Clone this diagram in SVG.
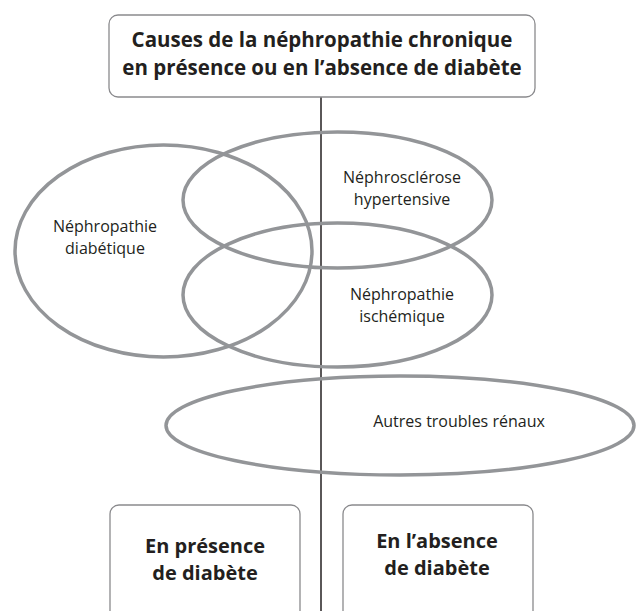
<svg xmlns="http://www.w3.org/2000/svg" width="636" height="611" viewBox="0 0 636 611">
<style>
.box{fill:#fff;stroke:#8a8a8d;stroke-width:1.3}
.ell{fill:none;stroke:#939598;stroke-width:3.5}
.t{font-family:"Open Sans","Liberation Sans",sans-serif;fill:#231f20;text-anchor:middle}
.h{font-weight:bold;font-size:20.5px}
.b{font-weight:bold;font-size:20px}
.n{font-size:16px}
</style>
<rect width="636" height="611" fill="#fff"/>
<g id="connectors">
<line x1="321" y1="97" x2="321" y2="611" stroke="#231f20" stroke-width="1.5"/>
</g>
<g id="title">
<rect class="box" x="109" y="15" width="426" height="82" rx="9"/>
<text class="t h" x="322" y="47">Causes de la néphropathie chronique</text>
<text class="t h" x="322" y="75">en présence ou en l’absence de diabète</text>
</g>
<g id="diabetique">
<ellipse class="ell" cx="163.5" cy="251" rx="148.5" ry="106"/>
<text class="t n" x="105" y="232">Néphropathie</text>
<text class="t n" x="105" y="254">diabétique</text>
</g>
<g id="nephrosclerose">
<ellipse class="ell" cx="337.5" cy="200" rx="154.5" ry="68"/>
<text class="t n" x="402" y="183">Néphrosclérose</text>
<text class="t n" x="402" y="205">hypertensive</text>
</g>
<g id="ischemique">
<ellipse class="ell" cx="337.5" cy="295" rx="154.5" ry="72"/>
<text class="t n" x="402" y="300">Néphropathie</text>
<text class="t n" x="402" y="322">ischémique</text>
</g>
<g id="autres">
<ellipse class="ell" cx="400" cy="425.5" rx="234" ry="49.5"/>
<text class="t n" x="459" y="427">Autres troubles rénaux</text>
</g>
<g id="presence">
<rect class="box" x="110" y="505" width="190" height="120" rx="9"/>
<text class="t b" x="205" y="552.5">En présence</text>
<text class="t b" x="205" y="580">de diabète</text>
</g>
<g id="absence">
<rect class="box" x="343" y="505" width="190" height="120" rx="9"/>
<text class="t b" x="437" y="547.5">En l’absence</text>
<text class="t b" x="437" y="575">de diabète</text>
</g>
</svg>
